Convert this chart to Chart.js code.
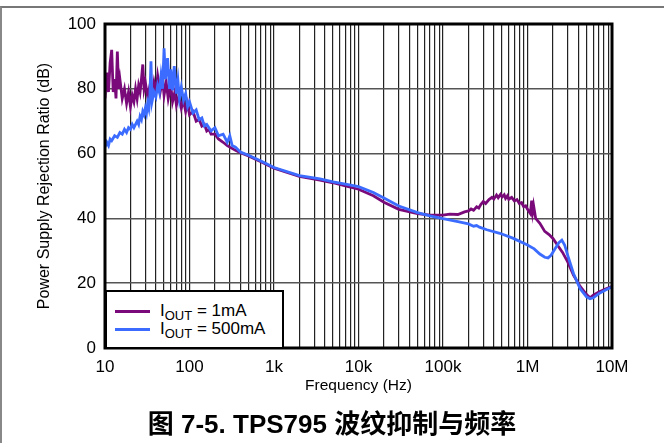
<!DOCTYPE html>
<html>
<head>
    <title>TPS795 PSRR</title>
    <script src="https://cdn.jsdelivr.net/npm/chart.js"></script>
    <style>
        body {
            margin: 0;
            background: #fff;
            font-family: "Liberation Sans", Arial, sans-serif;
        }

        .page {
            position: relative;
            width: 664px;
            height: 443px;
            overflow: hidden;
        }

        .frame {
            position: absolute;
            left: 0;
            top: 6px;
            width: 664px;
            height: 440px;
            border-top: 2px solid #777;
            border-left: 2px solid #888;
            box-sizing: border-box;
        }

        .chart-box {
            position: absolute;
            left: 0;
            top: 0;
            width: 664px;
            height: 443px;
        }

        .legend {
            position: absolute;
            left: 105px;
            top: 290px;
            width: 179px;
            height: 59px;
            border: 2px solid #000;
            background: #fff;
            box-sizing: border-box;
            font-size: 17px;
            color: #000;
        }

        .legend .row {
            position: absolute;
            left: 8px;
            height: 18px;
            line-height: 18px;
            white-space: nowrap;
        }

        .legend .swatch {
            display: inline-block;
            width: 35px;
            height: 3px;
            vertical-align: middle;
            margin-right: 10px;
        }

        .legend sub {
            font-size: 13px;
            vertical-align: -4px;
            line-height: 0;
        }

        .caption {
            position: absolute;
            left: 0;
            width: 664px;
            top: 403px;
            text-align: center;
            font-size: 26px;
            font-weight: bold;
            font-family: "Liberation Sans", "Noto Sans CJK SC", sans-serif;
        }
    </style>
</head>
<body>
    <div class="page">
        <div class="frame"></div>
        <div class="chart-box">
            <canvas id="psrr-chart"></canvas>
        </div>
        <div class="legend">
            <div class="row" style="top: 10px;"><span class="swatch" style="background:#7a0a7a;"></span>I<sub>OUT</sub> = 1mA</div>
            <div class="row" style="top: 28px;"><span class="swatch" style="background:#3b6cff;"></span>I<sub>OUT</sub> = 500mA</div>
        </div>
        <div class="caption">图 7-5. TPS795 波纹抑制与频率</div>
    </div>

    <script>
        // IOUT = 1mA
        const freq1mA = [10, 10.5, 11, 11.5, 12, 12.5, 13, 13.5, 14, 14.5, 15, 16, 17, 18, 19, 20, 21, 22, 23, 24,
            25, 26, 27, 28, 29, 30, 32, 34, 36, 38, 40, 42, 45, 48, 50, 53, 56, 60, 63, 67,
            70, 75, 80, 85, 90, 95, 100, 110, 120, 130, 140, 150, 160, 170, 180, 200, 220, 250, 280, 300,
            350, 400, 500, 700, 1000, 2000, 3500, 5000, 7000, 10000, 15000, 20000, 30000, 50000, 70000,
            100000, 120000, 150000, 180000, 200000, 215000, 230000, 250000, 265000, 280000, 300000, 320000, 350000,
            380000, 400000, 430000, 450000, 480000, 500000, 530000, 550000, 580000, 600000, 650000, 700000, 750000,
            800000, 850000, 900000, 950000, 1000000, 1080000, 1120000, 1150000, 1180000,
            1250000, 1400000, 1600000, 1800000, 2000000, 2300000, 2600000, 3000000, 3500000, 4200000, 5000000,
            5500000, 6000000, 7000000, 8500000, 10000000];
        const psrr1mA = [77, 85, 79, 88, 92, 79, 83, 77, 91.5, 80, 83, 77, 80, 75.5, 79, 74.5, 78, 76, 80, 77,
            81, 79, 83, 87.5, 80, 82, 77.5, 81, 78, 82, 79, 84, 79, 83, 78, 82, 77, 81, 76, 79,
            75, 78, 74, 76.5, 73, 75.5, 72, 73, 70, 70.5, 68.5, 69, 67, 67.5, 66, 66, 64.5, 63.5, 62.5, 62,
            61, 60.3, 59.3, 57.5, 55.5, 53, 51.8, 51, 50, 49, 47, 45, 42.8, 41.5, 41,
            41, 41.3, 41.2, 42, 42.3, 42.9, 42.5, 43.6, 43.2, 44.3, 45.2, 44.6, 45.8,
            46.5, 46, 47.2, 46.4, 47.4, 46.6, 47.3, 46.2, 47, 45.9, 46.5, 45.4, 45.8,
            44.6, 44.9, 43.6, 43.9, 42.8, 41.5, 45.5, 42, 44,
            40, 38.5, 36, 35, 33.8, 31.5, 29.5, 26.5, 22.5, 19, 16.5,
            15.5, 16.3, 17.3, 18.3, 19];

        // IOUT = 500mA
        const freq500mA = [10, 10.5, 11, 11.5, 12, 13, 14, 15, 16, 17, 18, 19, 20, 21, 22, 24, 25, 26, 27, 28,
            29, 30, 31, 32, 33, 34, 35, 36, 38, 40, 42, 44, 46, 48, 50, 52, 55, 58, 60, 63,
            66, 70, 73, 76, 80, 85, 90, 95, 100, 110, 120, 130, 140, 150, 160, 180, 200, 220, 250, 280,
            300, 320, 350, 400, 500, 700, 1000, 2000, 3500, 5000, 7000, 10000, 15000, 20000, 30000,
            50000, 70000, 100000, 150000, 200000, 230000, 250000, 270000, 330000, 470000, 670000, 1000000,
            1200000, 1400000, 1600000, 1750000, 1900000, 2100000, 2350000, 2550000, 2750000, 3000000,
            3500000, 4200000, 5000000, 5500000, 6000000, 7000000, 8500000, 10000000];
        const psrr500mA = [62, 63.5, 62.5, 64.5, 64, 65.5, 65, 66.5, 66, 67.5, 66.5, 68, 67.5, 69, 68, 70, 69, 71.5, 70.5, 73,
            72, 74, 72.5, 75.5, 74, 78, 88.5, 76, 79, 77.5, 81, 79, 84, 80, 92.5, 83, 89.5, 80, 86, 79.5,
            87, 78.5, 82.5, 77, 80.5, 76.5, 78.5, 74.5, 76, 72.5, 73.5, 70.5, 71, 68.5, 69, 67, 68, 65.5, 66, 63.5,
            65.5, 62.5, 62, 60.5, 59.5, 57.7, 55.7, 53.2, 52.2, 51.3, 50.6, 49.8, 48, 46.3, 43.8,
            41.8, 40.8, 39.9, 39, 38.3, 37.6, 37.8, 37.3, 36.5, 35.4, 33.9, 31.8,
            30.6, 29, 28, 27.8, 28.6, 30.5, 32.5, 33.3, 31.8, 28.5,
            23, 18.3, 15.8, 15.2, 15.5, 16.8, 18, 18.8];

        const decadeLabels = { 10: '10', 100: '100', 1000: '1k', 10000: '10k', 100000: '100k', 1000000: '1M', 10000000: '10M' };

        function toPoints(xs, ys) {
            return xs.map((x, i) => ({ x: x, y: ys[i] }));
        }

        // plot border on all four sides
        const plotFrame = {
            id: 'plotFrame',
            afterDatasetsDraw(chart) {
                const a = chart.chartArea;
                const ctx = chart.ctx;
                ctx.save();
                ctx.strokeStyle = '#000';
                ctx.lineWidth = 3;
                ctx.strokeRect(a.left, a.top, a.right - a.left, a.bottom - a.top);
                ctx.restore();
            }
        };

        Chart.defaults.font.family = '"Liberation Sans", Arial, sans-serif';
        Chart.defaults.color = '#000';

        const ctx = document.getElementById('psrr-chart').getContext('2d');
        new Chart(ctx, {
            type: 'line',
            data: {
                datasets: [
                    {
                        label: 'IOUT = 1mA',
                        data: toPoints(freq1mA, psrr1mA),
                        borderColor: '#7a0a7a',
                        borderWidth: 2.8,
                        pointRadius: 0,
                        tension: 0,
                        order: 2
                    },
                    {
                        label: 'IOUT = 500mA',
                        data: toPoints(freq500mA, psrr500mA),
                        borderColor: '#3b6cff',
                        borderWidth: 2.8,
                        pointRadius: 0,
                        tension: 0,
                        order: 1
                    }
                ]
            },
            options: {
                responsive: true,
                maintainAspectRatio: false,
                animation: false,
                layout: {
                    padding: { left: 0, right: 52, top: 24, bottom: 48 }
                },
                plugins: {
                    legend: { display: false },
                    tooltip: { enabled: false }
                },
                scales: {
                    x: {
                        type: 'logarithmic',
                        min: 10,
                        max: 10000000,
                        afterBuildTicks(scale) {
                            const ticks = [];
                            for (let d = 10; d < 10000000; d *= 10) {
                                for (let m = 1; m < 10; m++) ticks.push({ value: d * m });
                            }
                            ticks.push({ value: 10000000 });
                            scale.ticks = ticks;
                        },
                        afterFit(scale) {
                            scale.height = 47;
                        },
                        ticks: {
                            autoSkip: false,
                            maxRotation: 0,
                            padding: 9,
                            font: { size: 17 },
                            callback: (v) => decadeLabels[v] || ''
                        },
                        grid: {
                            color: '#222',
                            lineWidth: 1.2,
                            drawTicks: false
                        },
                        border: { display: false },
                        title: {
                            display: true,
                            text: 'Frequency (Hz)',
                            font: { size: 15.5 },
                            padding: { top: 0, bottom: 0 }
                        }
                    },
                    y: {
                        min: 0,
                        max: 100,
                        afterFit(scale) {
                            scale.width = 105;
                        },
                        ticks: {
                            stepSize: 20,
                            padding: 9,
                            font: { size: 17 }
                        },
                        grid: {
                            color: '#555',
                            lineWidth: 1.5,
                            drawTicks: false
                        },
                        border: { display: false },
                        title: {
                            display: true,
                            text: 'Power Supply Rejection Ratio (dB)',
                            font: { size: 16 },
                            padding: { top: 35, bottom: 0 }
                        }
                    }
                }
            },
            plugins: [plotFrame]
        });
    </script>
</body>
</html>
